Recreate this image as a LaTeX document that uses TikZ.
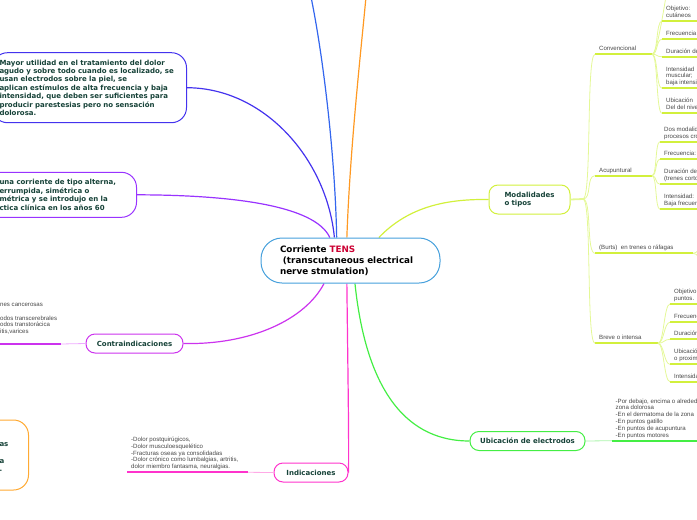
\documentclass[tikz,border=0pt]{standalone}
\usepackage{fontspec}
\setmainfont{DejaVu Sans}
\newfontfamily\leaffont{Liberation Sans}
\usepackage{tikz}
\usetikzlibrary{backgrounds}
\definecolor{tensblue}{RGB}{70,160,220}
\definecolor{tensred}{RGB}{204,0,51}
\definecolor{inkgreen}{RGB}{22,66,56}
\definecolor{topblue}{RGB}{51,102,238}
\definecolor{toporange}{RGB}{255,153,34}
\definecolor{mayorblue}{RGB}{68,51,238}
\definecolor{altviolet}{RGB}{153,51,255}
\definecolor{contramag}{RGB}{204,51,238}
\definecolor{contralight}{RGB}{238,170,255}
\definecolor{indpink}{RGB}{255,51,204}
\definecolor{indlight}{RGB}{255,170,230}
\definecolor{ubigreen}{RGB}{68,238,68}
\definecolor{ubilight}{RGB}{170,245,170}
\definecolor{modyellow}{RGB}{210,240,60}
\definecolor{modlight}{RGB}{228,248,150}
\definecolor{boxorange}{RGB}{255,170,51}
\tikzset{
  hub/.style={rectangle, rounded corners=21pt, draw=tensblue, line width=1pt,
    fill=white, align=left, text width=141pt, inner xsep=19pt, inner ysep=2pt,
    minimum height=45pt, font=\fontsize{8.8}{11.2}\selectfont\bfseries},
  box/.style={rectangle, rounded corners=9pt, draw=#1, line width=1pt,
    fill=white, text=inkgreen, minimum height=19pt, inner ysep=2pt,
    font=\fontsize{7}{8.4}\selectfont\bfseries},
  note/.style={box=#1, rounded corners=15pt, align=left},
  sub/.style={anchor=south west, inner xsep=4pt, inner ysep=3.4pt, text depth=0pt,
    align=left, text=black!72, font=\leaffont\fontsize{6.1}{6.8}\selectfont},
  branch/.style={draw=#1, line width=1.2pt},
  ul/.style={draw=#1, line width=1.8pt},
  link/.style={draw=#1, line width=0.8pt},
}
\begin{document}
\begin{tikzpicture}[x=1pt,y=-1pt]
  \useasboundingbox (0,0) rectangle (697,520);
  \clip (0,0) rectangle (697,520);
  \coordinate (rim) at (697,0);
  % central topic and main ideas
  \node[hub] (tens) at (350.5,260.5) {Corriente \textcolor{tensred}{TENS}\\~(transcutaneous electrical\\nerve stmulation)};
  \node[note=mayorblue, text width=180pt, inner xsep=7pt, minimum height=70pt, anchor=east] (mayor) at (187,87.7)
    {Mayor utilidad en el tratamiento del dolor\\agudo y sobre todo cuando es localizado, se\\usan electrodos sobre la piel, se\\aplican estímulos de alta frecuencia y baja\\intensidad, que deben ser suficientes para\\producir parestesias pero no sensación\\dolorosa.};
  \node[note=altviolet, text width=120pt, inner xsep=17pt, minimum height=45pt, anchor=east] (alterna) at (137,194.8)
    {una corriente de tipo alterna,\\errumpida, simétrica o\\métrica y se introdujo en la\\ctica clínica en los años 60};
  \node[note=boxorange, text width=12pt, inner xsep=17pt, minimum height=70pt, anchor=east] (otro) at (29,455)
    {\mbox{}\\as\\\mbox{}\\a\\.};
  \node[box=contramag, minimum width=97pt] (contra) at (134.5,343.5) {Contraindicaciones};
  \node[box=indpink, minimum width=74pt] (indic) at (311,472.5) {Indicaciones};
  \node[box=ubigreen, minimum width=115pt] (ubic) at (527.5,441) {Ubicación de electrodos};
  \node[box=modyellow, text width=50pt, inner xsep=15.5pt, minimum height=29pt, align=left] (modal) at (529.5,199.5) {Modalidades\\o tipos};

  % contraindicaciones
  \node[sub, inner xsep=0pt] (contralist) at (0,344)
    {nes cancerosas\\\mbox{}\\odos transcerebrales\\odos transtorácica\\itis,varices\\\mbox{}};
  \coordinate (jcontra) at (61,344);
  \draw[ul=contramag] (contralist.south west) -- (jcontra);
  \draw[link=contralight] (jcontra) -- (contra.west);

  % indicaciones
  \node[sub] (indlist) at (127,472.3)
    {-Dolor postquirúgicos,\\-Dolor musculoesquelético\\-Fracturas oseas ya consolidadas\\-Dolor crónico como lumbalgias, artritis,\\dolor miembro fantasma, neuralgias.};
  \coordinate (jind) at (248,472.3);
  \draw[ul=indpink] (indlist.south west) -- (jind);
  \draw[link=indlight] (jind) -- (indic.west);

  % ubicacion
  \node[sub, inner xsep=3.5pt] (ubilist) at (612,440.7)
    {-Por debajo, encima o alrededor de la\\zona dolorosa\\-En el dermatoma de la zona\\-En puntos gatillo\\-En puntos de acupuntura\\-En puntos motores};
  \draw[link=ubilight] (ubic.east) -- (ubilist.south west);
  \draw[ul=ubigreen] (ubilist.south west) -- (ubilist.south west -| rim);

  % modalidades
  \coordinate (jmod) at (583,199);
  \draw[ul=modlight] (modal.east) -- (jmod);
  \node[sub] (conv) at (595,54.3) {Convencional};
  \node[sub] (acup) at (595,175.7) {Acupuntural};
  \node[sub] (burts) at (595,253.3) {(Burts)\ \ en trenes o ráfagas};
  \node[sub] (breve) at (595,343.3) {Breve o intensa};
  \coordinate (jconv) at (652,54.3);
  \coordinate (jacup) at (652,175.7);
  \coordinate (jburts) at (693,253.3);
  \coordinate (jbreve) at (658,343.3);
  \draw[ul=modyellow] (conv.south west) -- (jconv);
  \draw[ul=modyellow] (acup.south west) -- (jacup);
  \draw[ul=modyellow] (burts.south west) -- (jburts);
  \draw[ul=modyellow] (breve.south west) -- (jbreve);
  \draw[link=modlight] (jmod) .. controls +(9,0) and +(-9,0) .. (conv.south west);
  \draw[link=modlight] (jmod) .. controls +(9,0) and +(-9,0) .. (acup.south west);
  \draw[link=modlight] (jmod) .. controls +(9,0) and +(-9,0) .. (burts.south west);
  \draw[link=modlight] (jmod) .. controls +(9,0) and +(-9,0) .. (breve.south west);

  % convencional
  \coordinate (convup) at (668,-14);
  \node[sub] (conv1) at (662,21) {Objetivo:\\cutáneos};
  \node[sub] (conv2) at (662,39.3) {Frecuencia};
  \node[sub] (conv3) at (662,56.7) {Duración de};
  \node[sub] (conv4) at (662,88.3) {Intensidad\\muscular;\\baja intensidad};
  \node[sub] (conv5) at (662,113.3) {Ubicación\\Del del nivel};
  \draw[link=modlight] (jconv) .. controls +(6,0) and +(-2,6) .. (convup);
  \foreach \k in {conv1,conv2,conv3,conv4,conv5} {
    \draw[link=modlight] (jconv) .. controls +(6,0) and +(-6,0) .. (\k.south west);
    \draw[ul=modyellow] (\k.south west) -- (\k.south west -| rim);
  }

  % acupuntural
  \node[sub] (acup1) at (660,141.7) {Dos modalidades\\procesos crónicos};
  \node[sub] (acup2) at (660,159.3) {Frecuencia:};
  \node[sub] (acup3) at (660,184.3) {Duración de\\(trenes cortos};
  \node[sub] (acup4) at (660,209.3) {Intensidad:\\Baja frecuencia};
  \foreach \k in {acup1,acup2,acup3,acup4} {
    \draw[link=modlight] (jacup) .. controls +(5,0) and +(-5,0) .. (\k.south west);
    \draw[ul=modyellow] (\k.south west) -- (\k.south west -| rim);
  }

  % burts
  \coordinate (burtsup) at (712,234);
  \coordinate (burtsdn) at (712,274);
  \draw[link=modlight] (jburts) .. controls +(8,0) and +(-6,0) .. (burtsup);
  \draw[link=modlight] (jburts) .. controls +(8,0) and +(-6,0) .. (burtsdn);

  % breve o intensa
  \node[sub] (breve1) at (670,304) {Objetivo\\puntos.};
  \node[sub] (breve2) at (670,322.3) {Frecuencia};
  \node[sub] (breve3) at (670,339.3) {Duración};
  \node[sub] (breve4) at (670,364.3) {Ubicación\\o proximal};
  \node[sub] (breve5) at (670,381.7) {Intensidad};
  \foreach \k in {breve1,breve2,breve3,breve4,breve5} {
    \draw[link=modlight] (jbreve) .. controls +(6,0) and +(-6,0) .. (\k.south west);
    \draw[ul=modyellow] (\k.south west) -- (\k.south west -| rim);
  }

  % branches from the central topic
  \coordinate (topb) at (311,-3);
  \coordinate (topo) at (366,-3);
  \begin{scope}[on background layer]
    \draw[branch=topblue] (tens.121) .. controls (335,150) and (322,50) .. (topb);
    \draw[branch=toporange] (tens.99) .. controls (350,150) and (360,60) .. (topo);
    \draw[branch=mayorblue] (mayor.east) .. controls (265,88) and (327,160) .. (tens.125);
    \draw[branch=altviolet] (alterna.east) .. controls (230,195) and (315,205) .. (tens.132);
    \draw[branch=modyellow] (tens.39) .. controls (410,205) and (450,199) .. (modal.west);
    \draw[branch=contramag] (tens.221) .. controls (305,320) and (250,345) .. (contra.east);
    \draw[branch=indpink] (tens.261) .. controls (348,380) and (349,440) .. (indic.east);
    \draw[branch=ubigreen] (tens.281) .. controls (365,380) and (400,441) .. (ubic.west);
  \end{scope}
\end{tikzpicture}
\end{document}
